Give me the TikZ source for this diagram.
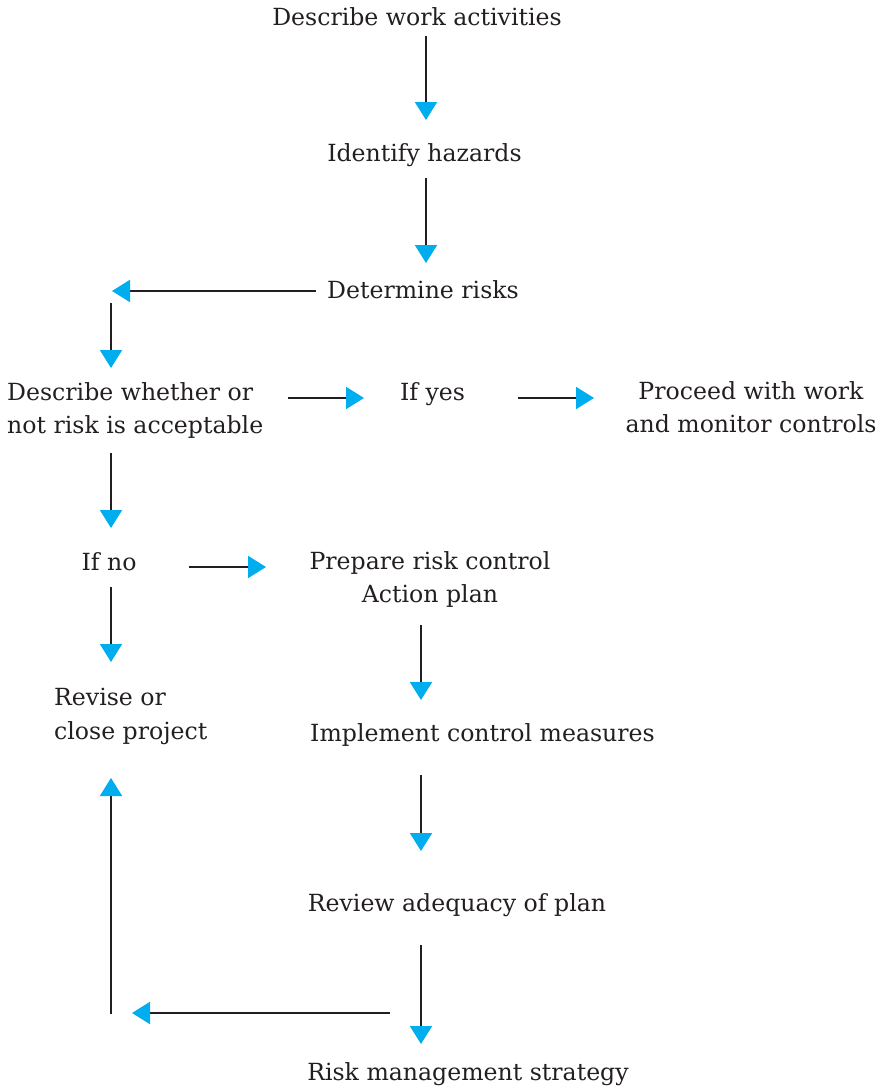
\documentclass[tikz,border=0pt]{standalone}
\usepackage{fontspec}
\setmainfont{DejaVu Serif}
\usetikzlibrary{arrows.meta}
\definecolor{tipc}{HTML}{00AEEF}
\definecolor{txtc}{HTML}{231F20}
\begin{document}
\begin{tikzpicture}[x=1pt,y=-1pt,
  lbl/.style={inner sep=0pt,text=txtc,font=\fontsize{23.6}{33.5}\selectfont},
  arr/.style={line width=1.9pt,draw=txtc,-{Triangle[length=18pt,width=22pt,color=tipc]}}]
\useasboundingbox (0,0) rectangle (891,1087);
% nodes
\node[lbl,anchor=base] (n1) at (417,25) {Describe work activities};
\node[lbl,anchor=base] (n2) at (424.5,161) {Identify hazards};
\node[lbl,anchor=base] (n3) at (423,298) {Determine risks};
\node[lbl,anchor=north west,align=left] (n4) at (7,382) {Describe whether or\\not risk is acceptable};
\node[lbl,anchor=base] (n5) at (432.5,400) {If yes};
\node[lbl,anchor=north,align=center] (n6) at (751,381) {Proceed with work\\and monitor controls};
\node[lbl,anchor=base] (n7) at (109,570) {If no};
\node[lbl,anchor=north,align=center] (n8) at (430,551) {Prepare risk control\\Action plan};
\node[lbl,anchor=north west,align=left] (n9) at (54,688) {Revise or\\close project};
\node[lbl,anchor=base] (n10) at (482.5,741) {Implement control measures};
\node[lbl,anchor=base] (n11) at (457,911) {Review adequacy of plan};
\node[lbl,anchor=base] (n12) at (468,1080) {Risk management strategy};
% connector ends
\coordinate (a1s) at (426,36);   \coordinate (a1e) at (426,120);
\coordinate (a2s) at (426,178);  \coordinate (a2e) at (426,263);
\coordinate (a3s) at (316,291);  \coordinate (a3e) at (112,291);
\coordinate (a4s) at (111,303);  \coordinate (a4e) at (111,368);
\coordinate (a5s) at (288,398);  \coordinate (a5e) at (364,398);
\coordinate (a6s) at (518,398);  \coordinate (a6e) at (594,398);
\coordinate (a7s) at (111,453);  \coordinate (a7e) at (111,528);
\coordinate (a8s) at (189,567);  \coordinate (a8e) at (266,567);
\coordinate (a9s) at (421,625);  \coordinate (a9e) at (421,700);
\coordinate (a10s) at (111,587); \coordinate (a10e) at (111,662);
\coordinate (a11s) at (421,775); \coordinate (a11e) at (421,851);
\coordinate (a12s) at (421,945); \coordinate (a12e) at (421,1044);
\coordinate (a13s) at (390,1013); \coordinate (a13e) at (132,1013);
\coordinate (a14s) at (111,1014); \coordinate (a14e) at (111,778);
% connectors
\foreach \i in {1,...,14} {\draw[arr] (a\i s) -- (a\i e);}
\end{tikzpicture}
\end{document}
